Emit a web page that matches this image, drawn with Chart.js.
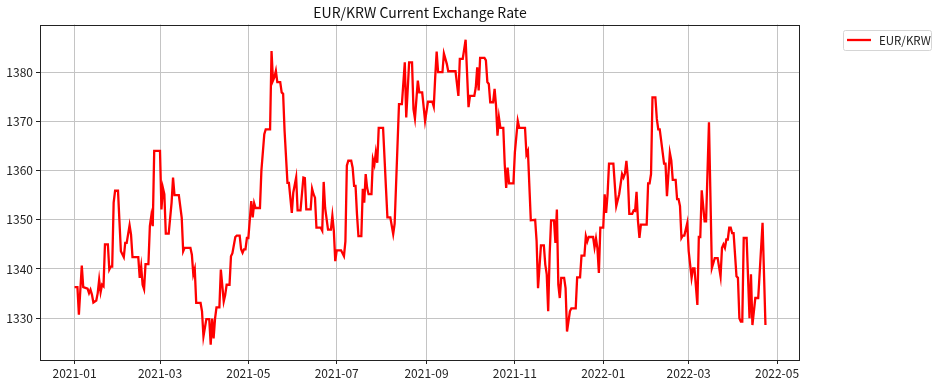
<!DOCTYPE html>
<html><head><meta charset="utf-8">
<script src="https://cdn.jsdelivr.net/npm/chart.js@4"></script>
<style>html,body{margin:0;padding:0;background:#fff;}#wrap{width:938px;height:386px;position:relative;}</style>
</head><body><div id="wrap"><canvas id="c" width="938" height="386"></canvas></div>
<script>
const titleText = 'EUR/KRW Current Exchange Rate';
const seriesName = 'EUR/KRW';

const dates = [
'2021-01-01','2021-01-03','2021-01-04','2021-01-06','2021-01-07','2021-01-09','2021-01-10','2021-01-11','2021-01-12','2021-01-13',
'2021-01-14','2021-01-16','2021-01-17','2021-01-18','2021-01-19','2021-01-20','2021-01-21','2021-01-22','2021-01-24','2021-01-25',
'2021-01-26','2021-01-27','2021-01-28','2021-01-29','2021-01-31','2021-02-01','2021-02-02','2021-02-04','2021-02-05','2021-02-06',
'2021-02-08','2021-02-09','2021-02-10','2021-02-14','2021-02-15','2021-02-16','2021-02-17','2021-02-18','2021-02-19','2021-02-21',
'2021-02-22','2021-02-23','2021-02-24','2021-02-25','2021-03-01','2021-03-02','2021-03-03','2021-03-04','2021-03-05','2021-03-07',
'2021-03-09','2021-03-10','2021-03-11','2021-03-14','2021-03-16','2021-03-17','2021-03-18','2021-03-22','2021-03-23','2021-03-24',
'2021-03-25','2021-03-26','2021-03-29','2021-03-30','2021-03-31','2021-04-02','2021-04-04','2021-04-05','2021-04-06','2021-04-07',
'2021-04-08','2021-04-09','2021-04-11','2021-04-12','2021-04-14','2021-04-15','2021-04-16','2021-04-18','2021-04-19','2021-04-20',
'2021-04-22','2021-04-23','2021-04-25','2021-04-26','2021-04-27','2021-04-28','2021-04-29','2021-04-30','2021-05-01','2021-05-03',
'2021-05-04','2021-05-05','2021-05-06','2021-05-09','2021-05-10','2021-05-12','2021-05-13','2021-05-16','2021-05-17','2021-05-18',
'2021-05-19','2021-05-20','2021-05-21','2021-05-23','2021-05-24','2021-05-25','2021-05-26','2021-05-28','2021-05-29','2021-05-31',
'2021-06-01','2021-06-03','2021-06-04','2021-06-06','2021-06-08','2021-06-09','2021-06-10','2021-06-13','2021-06-14','2021-06-15',
'2021-06-16','2021-06-17','2021-06-20','2021-06-21','2021-06-22','2021-06-23','2021-06-25','2021-06-27','2021-06-28','2021-06-29',
'2021-06-30','2021-07-01','2021-07-04','2021-07-06','2021-07-07','2021-07-08','2021-07-09','2021-07-11','2021-07-12','2021-07-13',
'2021-07-14','2021-07-15','2021-07-16','2021-07-18','2021-07-19','2021-07-20','2021-07-21','2021-07-22','2021-07-23','2021-07-25',
'2021-07-26','2021-07-27','2021-07-28','2021-07-29','2021-07-30','2021-08-02','2021-08-03','2021-08-04','2021-08-05','2021-08-07',
'2021-08-09','2021-08-10','2021-08-13','2021-08-15','2021-08-17','2021-08-18','2021-08-20','2021-08-22','2021-08-23','2021-08-24',
'2021-08-26','2021-08-27','2021-08-29','2021-08-31','2021-09-02','2021-09-05','2021-09-06','2021-09-07','2021-09-08','2021-09-09',
'2021-09-12','2021-09-13','2021-09-15','2021-09-16','2021-09-21','2021-09-23','2021-09-24','2021-09-26','2021-09-28','2021-09-30',
'2021-10-01','2021-10-04','2021-10-05','2021-10-06','2021-10-07','2021-10-08','2021-10-11','2021-10-12','2021-10-13','2021-10-14',
'2021-10-15','2021-10-17','2021-10-18','2021-10-19','2021-10-20','2021-10-21','2021-10-22','2021-10-24','2021-10-25','2021-10-26',
'2021-10-27','2021-10-28','2021-10-31','2021-11-01','2021-11-03','2021-11-04','2021-11-08','2021-11-09','2021-11-10','2021-11-12',
'2021-11-15','2021-11-16','2021-11-17','2021-11-19','2021-11-21','2021-11-22','2021-11-23','2021-11-24','2021-11-25','2021-11-26',
'2021-11-28','2021-11-29','2021-11-30','2021-12-01','2021-12-02','2021-12-03','2021-12-05','2021-12-06','2021-12-07','2021-12-09',
'2021-12-10','2021-12-13','2021-12-14','2021-12-16','2021-12-17','2021-12-19','2021-12-20','2021-12-21','2021-12-22','2021-12-25',
'2021-12-26','2021-12-27','2021-12-28','2021-12-29','2021-12-30','2022-01-01','2022-01-02','2022-01-03','2022-01-04','2022-01-05',
'2022-01-08','2022-01-10','2022-01-12','2022-01-14','2022-01-15','2022-01-16','2022-01-17','2022-01-18','2022-01-19','2022-01-21',
'2022-01-22','2022-01-23','2022-01-24','2022-01-25','2022-01-26','2022-01-27','2022-01-31','2022-02-01','2022-02-02','2022-02-03',
'2022-02-04','2022-02-06','2022-02-07','2022-02-08','2022-02-09','2022-02-10','2022-02-12','2022-02-13','2022-02-14','2022-02-16',
'2022-02-17','2022-02-18','2022-02-20','2022-02-21','2022-02-22','2022-02-23','2022-02-24','2022-02-25','2022-02-26','2022-02-28',
'2022-03-01','2022-03-03','2022-03-04','2022-03-05','2022-03-07','2022-03-08','2022-03-09','2022-03-10','2022-03-12','2022-03-13',
'2022-03-15','2022-03-17','2022-03-19','2022-03-21','2022-03-23','2022-03-24','2022-03-25','2022-03-26','2022-03-27','2022-03-28',
'2022-03-29','2022-03-30','2022-03-31','2022-04-01','2022-04-03','2022-04-04','2022-04-05','2022-04-06','2022-04-07','2022-04-08',
'2022-04-10','2022-04-12','2022-04-13','2022-04-14','2022-04-16','2022-04-18','2022-04-21','2022-04-23'
];

const rates = [
1336.3,1336.3,1330.7,1340.7,1336.3,1336.1,1336.0,1335.1,1335.8,1334.8,
1333.2,1333.6,1335.1,1337.8,1335.3,1336.8,1336.5,1345.0,1345.0,1339.9,
1340.5,1340.5,1353.5,1355.9,1355.9,1349.7,1343.6,1342.4,1345.3,1345.3,
1348.9,1347.0,1342.4,1342.4,1338.2,1340.5,1336.8,1335.9,1341.0,1341.0,
1348.7,1350.8,1348.7,1364.0,1364.0,1352.1,1356.5,1355.2,1347.2,1347.2,
1353.5,1358.6,1355.0,1355.0,1350.4,1343.6,1344.3,1344.3,1342.9,1338.9,
1340.0,1333.1,1333.1,1331.4,1326.3,1329.8,1329.8,1324.6,1329.9,1325.9,
1329.9,1332.2,1332.2,1339.9,1333.4,1334.7,1336.8,1336.8,1342.6,1343.2,
1346.5,1346.8,1346.8,1344.0,1343.3,1344.0,1344.0,1346.3,1346.3,1353.8,
1350.5,1353.4,1352.4,1352.4,1360.0,1367.4,1368.4,1368.4,1384.3,1378.3,
1379.0,1380.3,1378.0,1378.0,1375.9,1375.6,1368.1,1357.5,1357.5,1351.4,
1355.5,1358.6,1351.9,1351.9,1358.6,1358.5,1352.1,1352.1,1356.3,1355.2,
1354.5,1348.4,1348.4,1347.8,1357.7,1352.4,1348.0,1348.0,1350.8,1347.8,
1341.6,1343.8,1343.8,1342.6,1345.6,1361.0,1362.0,1362.0,1360.6,1356.9,
1356.9,1351.1,1346.7,1346.7,1356.3,1353.5,1359.3,1356.5,1355.2,1355.2,
1362.3,1361.2,1363.7,1361.6,1368.7,1368.7,1362.6,1356.5,1350.5,1350.5,
1347.1,1349.2,1373.5,1373.5,1382.0,1370.8,1382.0,1382.0,1372.5,1370.6,
1378.3,1375.9,1375.9,1370.1,1374.0,1374.0,1373.0,1379.0,1384.2,1380.0,
1380.0,1383.8,1381.7,1380.2,1380.2,1375.2,1382.7,1382.7,1386.6,1372.9,
1375.2,1375.2,1376.9,1381.0,1376.3,1382.9,1382.9,1382.4,1378.0,1377.6,
1373.9,1373.9,1376.6,1373.2,1367.1,1370.8,1368.7,1368.7,1361.3,1356.5,
1360.6,1357.4,1357.4,1363.7,1370.1,1368.7,1368.7,1363.3,1364.0,1349.9,
1350.0,1345.7,1336.1,1344.8,1344.8,1340.9,1338.9,1331.4,1342.9,1349.9,
1349.9,1345.3,1352.1,1336.8,1334.1,1338.2,1338.2,1336.1,1327.3,1331.4,
1332.0,1332.0,1338.3,1338.3,1342.7,1342.7,1346.7,1345.6,1346.5,1346.5,
1344.4,1346.2,1344.2,1339.2,1348.4,1348.4,1355.2,1351.4,1355.2,1361.4,
1361.4,1352.8,1355.2,1359.3,1358.6,1359.4,1362.0,1358.6,1351.2,1351.2,
1351.9,1351.8,1355.7,1349.7,1346.3,1349.0,1349.0,1357.4,1357.4,1359.3,
1374.9,1374.9,1370.5,1368.4,1368.4,1366.1,1361.4,1361.4,1354.8,1363.6,
1362.0,1358.1,1358.1,1354.2,1354.2,1352.8,1346.3,1346.8,1346.8,1349.3,
1343.6,1338.2,1340.1,1340.1,1332.7,1346.5,1346.5,1356.0,1349.7,1349.7,
1369.8,1340.2,1342.2,1342.2,1338.5,1344.3,1345.0,1344.3,1346.0,1346.0,
1348.4,1348.4,1347.3,1347.3,1338.5,1338.2,1330.0,1329.3,1329.3,1346.3,
1346.3,1330.0,1338.9,1328.6,1334.1,1334.1,1349.4,1328.6
];

const xTickDates = ['2021-01-01','2021-03-01','2021-05-01','2021-07-01','2021-09-01','2021-11-01','2022-01-01','2022-03-01','2022-05-01'];
const xTickLabels = ['2021-01','2021-03','2021-05','2021-07','2021-09','2021-11','2022-01','2022-03','2022-05'];
const yTicks = [1330,1340,1350,1360,1370,1380];

const base = Date.UTC(2021,0,1);
const toDay = s => (Date.parse(s + 'T00:00:00Z') - base) / 864e5;
const xs = dates.map(toDay);
const points = xs.map((x,i) => ({x: x, y: rates[i]}));
const xMinD = Math.min(...xs), xMaxD = Math.max(...xs);
const yMinD = Math.min(...rates), yMaxD = Math.max(...rates);
const xPad = (xMaxD - xMinD) * 0.05, yPad = (yMaxD - yMinD) * 0.05;
const tickLabelMap = {};
xTickDates.forEach((d,i) => { tickLabelMap[toDay(d)] = xTickLabels[i]; });

const FONT = '"Noto Sans CJK KR", "Noto Sans", sans-serif';

const decor = {
  id: 'decor',
  afterDraw(chart) {
    const ctx = chart.ctx, a = chart.chartArea;
    ctx.save();
    ctx.strokeStyle = '#222';
    ctx.lineWidth = 1;
    ctx.strokeRect(Math.round(a.left) + 0.5, Math.round(a.top) + 0.5, Math.round(a.right - a.left) - 1, Math.round(a.bottom - a.top) - 1);
    ctx.fillStyle = '#111';
    ctx.font = '14px ' + FONT;
    ctx.textAlign = 'center';
    ctx.textBaseline = 'middle';
    ctx.fillText(titleText, (a.left + a.right) / 2, 13);
    const bx = 843, by = 30, bw = 88, bh = 20;
    ctx.fillStyle = '#fff';
    ctx.strokeStyle = '#d5d5d5';
    ctx.lineWidth = 1;
    ctx.beginPath();
    ctx.roundRect(bx + 0.5, by + 0.5, bw, bh, 2);
    ctx.fill();
    ctx.stroke();
    ctx.strokeStyle = '#ff0000';
    ctx.lineWidth = 2.3;
    ctx.beginPath();
    ctx.moveTo(847, 40);
    ctx.lineTo(871, 40);
    ctx.stroke();
    ctx.fillStyle = '#222';
    ctx.font = '11.5px ' + FONT;
    ctx.textAlign = 'left';
    ctx.textBaseline = 'middle';
    ctx.fillText(seriesName, 879, 40.5);
    ctx.restore();
  }
};

new Chart(document.getElementById('c'), {
  type: 'line',
  data: { datasets: [{
    label: seriesName,
    data: points,
    borderColor: '#ff0000',
    backgroundColor: '#ff0000',
    borderWidth: 2.3,
    pointRadius: 0,
    tension: 0,
    fill: false
  }]},
  options: {
    responsive: false,
    devicePixelRatio: 1,
    animation: false,
    layout: { padding: { left: 0, right: 138, top: 24.5, bottom: 0 } },
    plugins: { legend: { display: false }, title: { display: false }, tooltip: { enabled: false } },
    scales: {
      x: {
        type: 'linear',
        min: xMinD - xPad,
        max: xMaxD + xPad,
        afterBuildTicks: s => { s.ticks = xTickDates.map(d => ({ value: toDay(d) })); },
        afterFit: s => { s.height = 26; },
        ticks: {
          autoSkip: false, maxRotation: 0, padding: 2, color: '#222',
          font: { family: FONT, size: 12 },
          callback: v => tickLabelMap[v] || ''
        },
        grid: { color: '#c4c4c4', lineWidth: 1, tickColor: '#222', tickLength: 4, drawTicks: true },
        border: { display: false }
      },
      y: {
        type: 'linear',
        min: yMinD - yPad,
        max: yMaxD + yPad,
        afterBuildTicks: s => { s.ticks = yTicks.map(v => ({ value: v })); },
        afterFit: s => { s.width = 40; },
        ticks: { padding: 3, color: '#222', font: { family: FONT, size: 12 }, callback: v => String(v) },
        grid: { color: '#c4c4c4', lineWidth: 1, tickColor: '#222', tickLength: 4, drawTicks: true },
        border: { display: false }
      }
    }
  },
  plugins: [decor]
});
</script>
</body></html>
